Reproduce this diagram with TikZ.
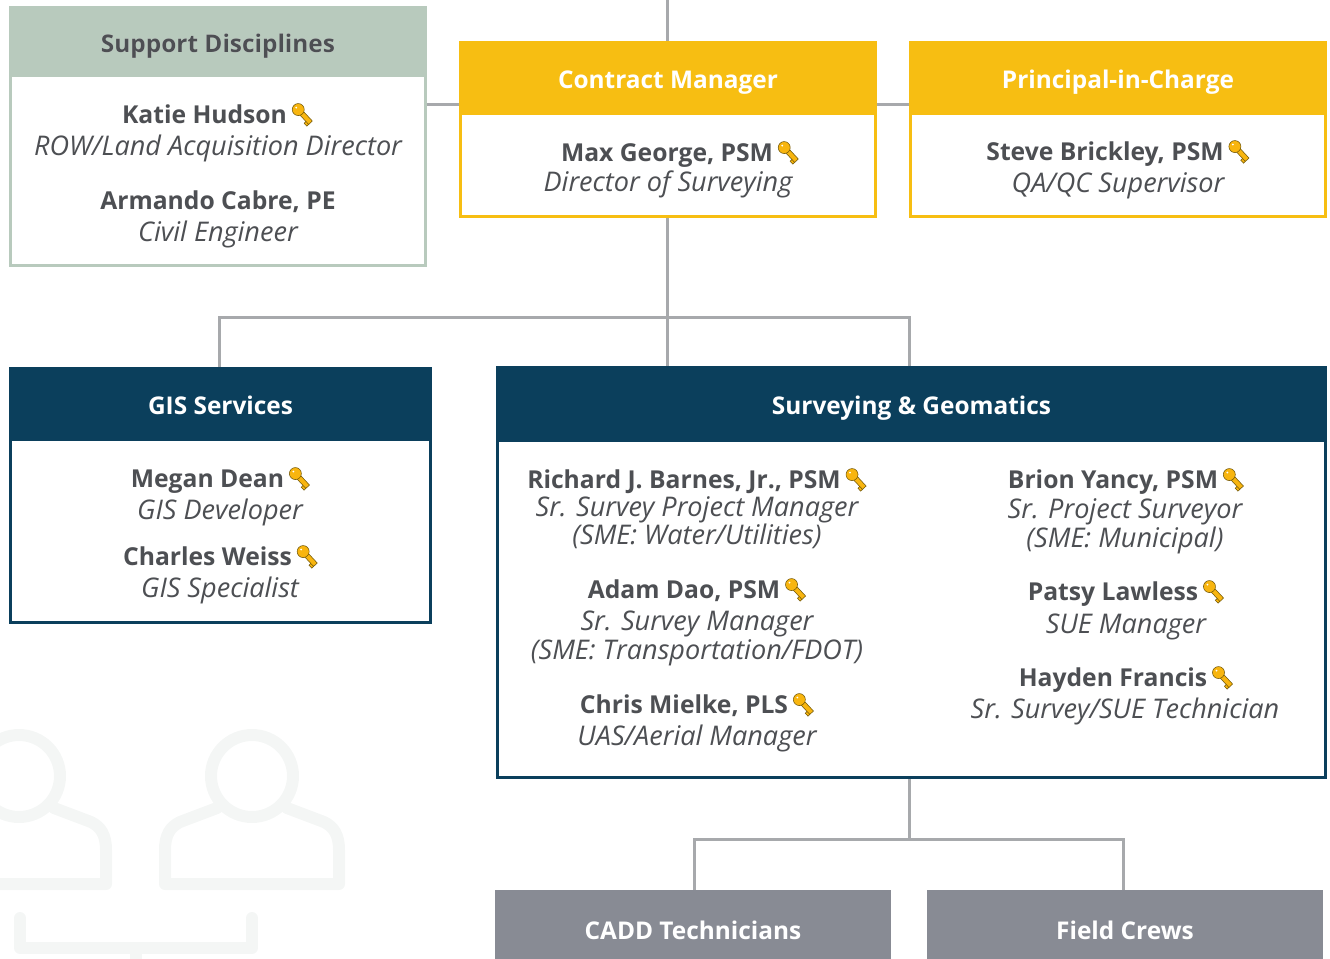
\documentclass[tikz,border=0pt]{standalone}
\usepackage{fontspec}
\setmainfont{Open Sans}
\usetikzlibrary{calc}
\definecolor{sage}{HTML}{B8CABD}
\definecolor{gold}{HTML}{F7BE12}
\definecolor{navy}{HTML}{0B3F5C}
\definecolor{slate}{HTML}{888B94}
\definecolor{linegray}{HTML}{A7A9AC}
\definecolor{inkgray}{HTML}{4D4F53}
\definecolor{ghost}{HTML}{F4F6F5}
\tikzstyle{headbox}=[rectangle,inner sep=0pt,text=white,font=\fontsize{18.3}{22}\selectfont\bfseries,text height=20pt,text depth=4pt]
\tikzstyle{bodybox}=[rectangle,draw,fill=white,line width=2.25pt,inner sep=0pt]
\tikzstyle{conn}=[draw=linegray,line width=2.25pt]
\tikzstyle{person}=[inner sep=0pt,anchor=mid,yshift=-4.5pt,text=inkgray,font=\fontsize{18.5}{22}\selectfont\bfseries]
\tikzstyle{role}=[inner sep=0pt,anchor=mid,yshift=-4.5pt,text=inkgray,font=\fontsize{20.3}{22}\selectfont\itshape]
\tikzstyle{backicon}=[draw=ghost,line width=9pt,line join=round,line cap=round]
\tikzset{keyicon/.pic={
    \draw[fill=gold!85!orange,draw=black!55!gold,line width=0.4pt,rotate around={-47:(-4,-4)}] (-4,-6.5) rectangle (14,-1.5) (10,-1.5) -- (10,1) -- (14,1) -- (14,-1.5);
    \draw[fill=gold!85!orange,draw=black!55!gold,line width=0.4pt] (-4,-4) circle[radius=6];
    \fill[white] (-6,-6) circle[radius=1];
}}

\begin{document}
\begin{tikzpicture}[x=0.75pt,y=-0.75pt]

  \clip (0,0) rectangle (1330,959);

  % Faded people behind the boxes
  \foreach \cx in {19,252} {
    \draw[backicon] (\cx,776) circle[radius=41];
    \draw[backicon] (\cx-35,808) -- (\cx-72,822) .. controls (\cx-82,827) and (\cx-87,835) .. (\cx-87,850) -- (\cx-87,884) -- (\cx+87,884) -- (\cx+87,850) .. controls (\cx+87,835) and (\cx+82,827) .. (\cx+72,822) -- (\cx+35,808);
  }
  \draw[backicon] (20,918) -- (20,948) -- (252,948) -- (252,918);
  \draw[backicon,line cap=butt] (136,948) -- (136,965);

  % Boxes with white bodies
  \foreach \name/\cx/\top/\mid/\bot/\wid/\col/\title in {
      support/218/6/77/267/418/sage/{Support Disciplines},
      contract/668/41/115/218/418/gold/{Contract Manager},
      principal/1118/41/115/218/418/gold/{Principal-in-Charge},
      gis/220.5/367/441/624/423/navy/{GIS Services},
      surveying/911.5/366/442/779/831/navy/{Surveying \& Geomatics}} {
    \node[bodybox,draw=\col,minimum width=(\wid-3)*0.75pt,minimum height=(\bot-\top-3)*0.75pt] (\name body) at ({\cx},{(\top+\bot)/2}) {};
    \node[headbox,fill=\col,minimum width=\wid*0.75pt,minimum height=(\mid-\top)*0.75pt] (\name) at ({\cx},{(\top+\mid)/2}) {\title};
  }
  \node[headbox,text=inkgray] at (support) {Support Disciplines};

  % Grey boxes, cut by the page
  \foreach \name/\cx/\title in {cadd/693/{CADD Technicians},field/1125/{Field Crews}}
    \node[headbox,fill=slate,minimum width=396*0.75pt,minimum height=78*0.75pt] (\name) at (\cx,929) {\title};

  % Connectors
  \coordinate (top) at (667.5,-2);
  \coordinate (hub) at (667.5,317);
  \coordinate (lowhub) at (909.5,839);
  \draw[conn] (top) -- (hub |- contract.north);
  \draw[conn] (hub |- contractbody.south) -- (hub);
  \draw[conn] (supportbody.east |- 0,104.5) -- (contract.west |- 0,104.5);
  \draw[conn] (contract.east |- 0,104.5) -- (principal.west |- 0,104.5);
  \draw[conn] (hub) -- (surveying.north -| hub);
  \draw[conn] (hub) -| ($(gis.north)+(-1.5,0)$);
  \draw[conn] (hub) -| ($(surveying.north)+(-2,0)$);
  \draw[conn] ($(surveyingbody.south)+(-2,0)$) -- (lowhub);
  \draw[conn] (lowhub) -| ($(cadd.north)+(1.5,0)$);
  \draw[conn] (lowhub) -| ($(field.north)+(-1.5,0)$);

  % Names with a key
  \foreach \pos/\name/\person in {
      {(204.5,114)/katie/{Katie Hudson}},
      {(667,152)/max/{Max George, PSM}},
      {(1105,151)/steve/{Steve Brickley, PSM}},
      {(207.5,478)/megan/{Megan Dean}},
      {(207.5,556)/charles/{Charles Weiss}},
      {(684,479)/richard/{Richard J. Barnes, Jr., PSM}},
      {(684,589)/adam/{Adam Dao, PSM}},
      {(684,704)/chris/{Chris Mielke, PLS}},
      {(1113,479)/brion/{Brion Yancy, PSM}},
      {(1113,591)/patsy/{Patsy Lawless}},
      {(1113,677)/hayden/{Hayden Francis}}} {
    \node[person] (\name) at \pos {\person};
    \pic at ([shift={(15,-10)}]\name.base east) {keyicon};
  }
  \node[person] (armando) at (218,200) {Armando Cabre, PE};

  % Roles
  \foreach \pos/\name/\what in {
      {(218,146)/katierole/{ROW/Land Acquisition Director}},
      {(218,232)/armandorole/{Civil Engineer}},
      {(668,182)/maxrole/{Director of Surveying}},
      {(1118,183)/steverole/{QA/QC Supervisor}},
      {(220,510)/meganrole/{GIS Developer}},
      {(220,588)/charlesrole/{GIS Specialist}},
      {(697,507)/richardrole/{Sr. Survey Project Manager}},
      {(697,535)/richardsme/{(SME: Water/Utilities)}},
      {(697,621)/adamrole/{Sr. Survey Manager}},
      {(697,650)/adamsme/{(SME: Transportation/FDOT)}},
      {(697,736)/chrisrole/{UAS/Aerial Manager}},
      {(1125,509)/brionrole/{Sr. Project Surveyor}},
      {(1125,538)/brionsme/{(SME: Municipal)}},
      {(1126,624)/patsyrole/{SUE Manager}},
      {(1125,709)/haydenrole/{Sr. Survey/SUE Technician}}}
    \node[role] (\name) at \pos {\what};

\end{tikzpicture}
\end{document}
